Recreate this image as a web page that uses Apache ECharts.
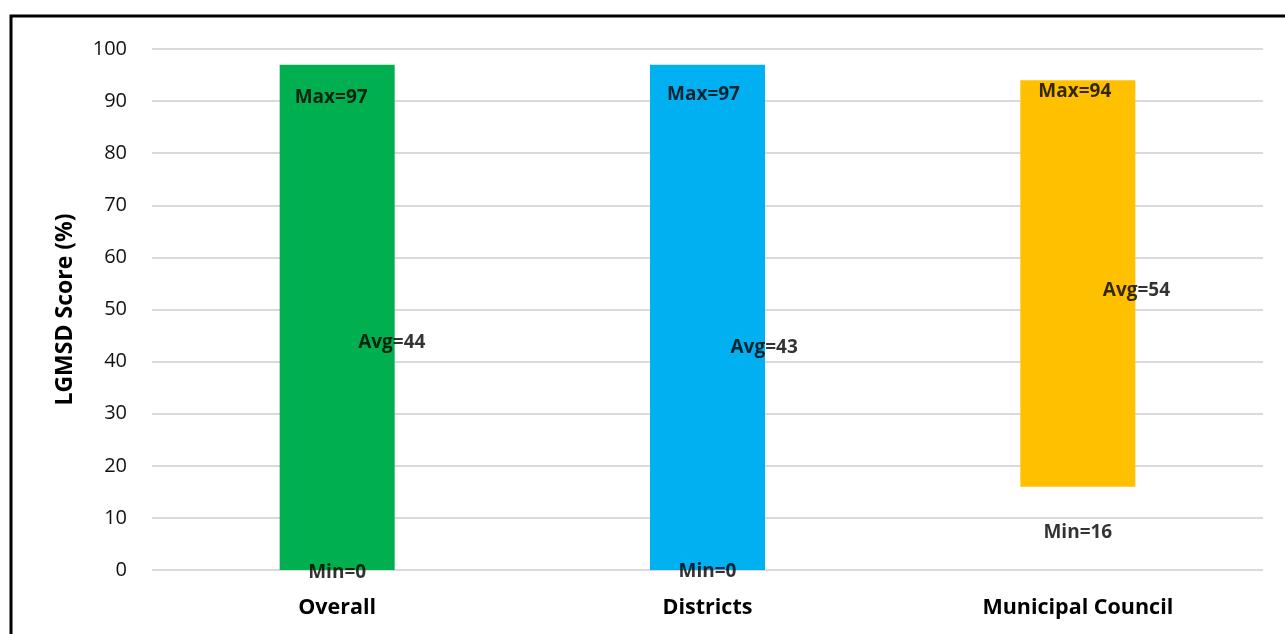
<!DOCTYPE html>
<html>
<head>
<meta charset="utf-8">
<script src="https://cdn.jsdelivr.net/npm/echarts@6/dist/echarts.min.js"></script>
<style>
  html, body { margin: 0; padding: 0; background: #fff; }
  #chart { width: 1285px; height: 634px; }
</style>
</head>
<body>
<div id="chart"></div>
<script>
// LGMSD score ranges by local government type
const categories = ['Overall', 'Districts', 'Municipal Council'];
const minScores = [0, 0, 16];
const maxScores = [97, 97, 94];
const avgScores = [44, 43, 54];
const barColors = ['#00B050', '#00B0F0', '#FFC000'];
const yTicks = [0, 10, 20, 30, 40, 50, 60, 70, 80, 90, 100];

const FONT = '"Open Sans", Lato, sans-serif';
const chart = echarts.init(document.getElementById('chart'), null, { renderer: 'canvas' });

const maxLabelShift = [[-6, 33], [-4, 30], [-3, 11]];
const minLabelShift = [[0, 3], [0, 2], [0, 46]];
const avgLabelShift = [[0, 2], [2, 2], [4, 2]];

const labelText = {
  color: '#000', fontFamily: FONT, fontWeight: 'bold', fontSize: 19
};

function labelSeries(name, values, prefix, shifts, position) {
  return {
    name: name,
    type: 'scatter',
    symbolSize: 0,
    silent: true,
    z: 5,
    data: values.map((v, i) => ({
      value: [categories[i], v],
      label: {
        show: true,
        position: position,
        distance: position === 'right' ? 21 : 0,
        offset: shifts[i],
        formatter: prefix + '=' + v,
        ...labelText
      }
    }))
  };
}

const option = {
  animation: false,
  backgroundColor: '#fff',
  graphic: [{
    type: 'rect',
    shape: { x: 11, y: 16, width: 1400, height: 700 },
    style: { fill: 'none', stroke: '#000', lineWidth: 3 },
    z: 100
  }],
  grid: { left: 152, right: 22, top: 49, bottom: 64 },
  xAxis: {
    type: 'category',
    data: categories,
    axisLine: { show: false },
    axisTick: { show: false },
    axisLabel: {
      margin: 27, color: '#000', fontFamily: FONT, fontWeight: 'bold', fontSize: 21.5
    }
  },
  yAxis: {
    type: 'value',
    min: yTicks[0],
    max: yTicks[yTicks.length - 1],
    interval: yTicks[1] - yTicks[0],
    name: 'LGMSD Score (%)',
    nameLocation: 'middle',
    nameGap: 75,
    nameRotate: 90,
    nameTextStyle: { color: '#000', fontFamily: FONT, fontWeight: 'bold', fontSize: 23 },
    axisLine: { show: false },
    axisTick: { show: false },
    axisLabel: { margin: 25, color: '#111', fontFamily: FONT, fontSize: 20 },
    splitLine: { lineStyle: { color: '#D9D9D9', width: 2 } }
  },
  series: [
    {
      name: 'base',
      type: 'bar',
      stack: 'range',
      barWidth: 115,
      itemStyle: { color: 'transparent' },
      silent: true,
      data: minScores
    },
    {
      name: 'range',
      type: 'bar',
      stack: 'range',
      barWidth: 115,
      data: maxScores.map((mx, i) => ({
        value: mx - minScores[i],
        itemStyle: { color: barColors[i] }
      }))
    },
    labelSeries('max', maxScores, 'Max', maxLabelShift, 'inside'),
    labelSeries('avg', avgScores, 'Avg', avgLabelShift, 'right'),
    labelSeries('min', minScores, 'Min', minLabelShift, 'inside')
  ]
};

chart.setOption(option);
</script>
</body>
</html>
